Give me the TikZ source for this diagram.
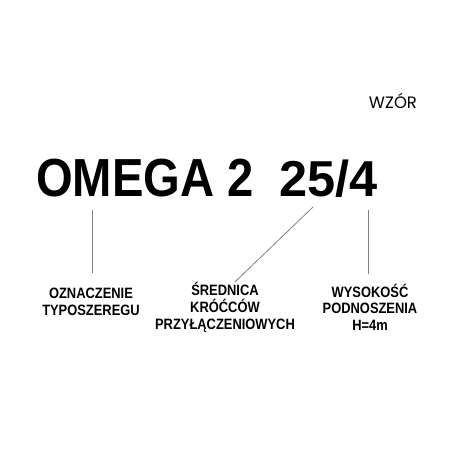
\documentclass[tikz,border=0pt]{standalone}
\usepackage{fontspec}
\setmainfont{Liberation Sans}
\newfontfamily\wzorfont{Poppins}
\newfontfamily\waskifont[FakeStretch=0.86]{Liberation Sans}
\newfontfamily\duzyfont[FakeStretch=0.88]{Liberation Sans}
\usepackage{tikz}
\usetikzlibrary{calc}
\tikzstyle{duzy} = [inner sep=0pt, font=\duzyfont\fontsize{53.6}{56}\selectfont\bfseries, anchor=base west]
\tikzstyle{opis} = [inner sep=0pt, align=center, anchor=base, font=\waskifont\fontsize{15}{16.8}\selectfont\bfseries]
\tikzstyle{linia} = [draw=black!50, line width=0.8pt]

\begin{document}
\begin{tikzpicture}[x=1pt, y=-1pt]
        \useasboundingbox (0,0) rectangle (450,450);
        \node (wzor) [font=\wzorfont\fontsize{16.5}{18}\selectfont, inner sep=0pt, anchor=base] at (393,108.3) {WZÓR};
        \node (typ) [duzy] at (36,196.7) {OMEGA 2};
        \node (wym) [duzy, font=\fontsize{50.5}{56}\selectfont\bfseries] at (279,196.7) {25/4};
        \node (opis1) [opis] at (91,315.7) {OZNACZENIE\\TYPOSZEREGU};
        \node (opis2) [opis] at (225,329) {ŚREDNICA\\KRÓĆCÓW\\PRZYŁĄCZENIOWYCH};
        \node (opis3) [opis] at (370,330.7) {WYSOKOŚĆ\\PODNOSZENIA\\H=4m};
        \coordinate (k1) at (92,210);
        \coordinate (k2) at (313,207);
        \coordinate (k3) at (368,210);
        \draw [linia] (k1) -- (k1 |- 0,273);
        \draw [linia] (k2) -- ($(opis2.north)+(10,0)$ |- 0,277);
        \draw [linia] (k3) -- (k3 |- 0,274);
    \end{tikzpicture}
\end{document}
